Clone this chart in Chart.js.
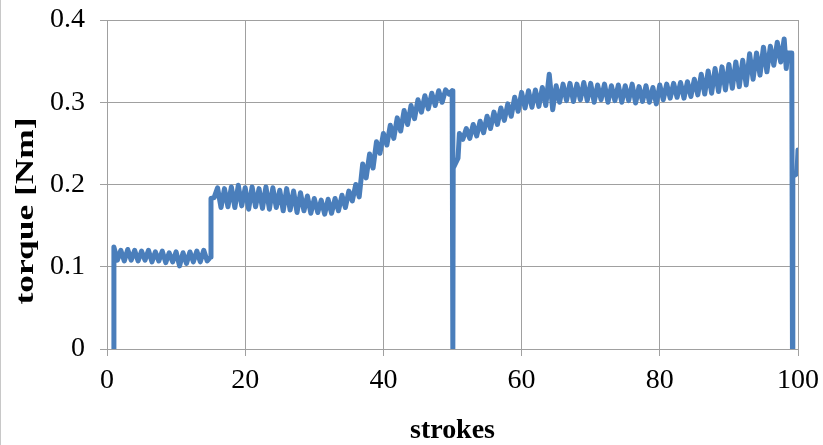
<!DOCTYPE html>
<html>
<head>
<meta charset="utf-8">
<script src="https://cdn.jsdelivr.net/npm/chart.js@4.4.1/dist/chart.umd.min.js"></script>
<style>
  html, body { margin: 0; padding: 0; background: #ffffff; }
  #wrap { width: 823px; height: 445px; position: relative; }
  canvas { display: block; }
</style>
</head>
<body>
<div id="wrap"><canvas id="c" width="823" height="445"></canvas></div>
<script>
// ---- data ----
const strokes = [
  1, 1, 1.5, 2, 2.5, 3, 3.5, 4, 4.5, 5, 5.5, 6, 6.5, 7, 7.5, 8, 8.5, 9, 9.5, 10, 10.5,
  11, 11.5, 12, 12.5, 13, 13.5, 14, 14.5, 15, 15.05, 15.5,
  16, 16.5, 17, 17.5, 18, 18.5, 19, 19.5, 20, 20.5, 21, 21.5, 22, 22.5, 23, 23.5, 24, 24.5,
  25, 25.5, 26, 26.5, 27, 27.5, 28, 28.5, 29, 29.5, 30, 30.5, 31, 31.5, 32, 32.5, 33, 33.5,
  34, 34.5, 35, 35.5, 36, 36.5, 37, 37.5, 38, 38.5, 39, 39.5, 40, 40.5, 41, 41.5, 42, 42.5,
  43, 43.5, 44, 44.5, 45, 45.5, 46, 46.5, 47, 47.5, 48, 48.5, 49, 49.5, 49.95, 50.05, 50.1, 50.8,
  51, 51.5, 52, 52.5, 53, 53.5, 54, 54.5, 55, 55.5, 56, 56.5, 57, 57.5, 58, 58.5, 59, 59.5,
  60, 60.5, 61, 61.5, 62, 62.5, 63, 63.5, 64, 64.5, 65, 65.5, 66, 66.5, 67, 67.5, 68, 68.5,
  69, 69.5, 70, 70.5, 71, 71.5, 72, 72.5, 73, 73.5, 74, 74.5, 75, 75.5, 76, 76.5, 77, 77.5,
  78, 78.5, 79, 79.5, 80, 80.5, 81, 81.5, 82, 82.5, 83, 83.5, 84, 84.5, 85, 85.5, 86, 86.5,
  87, 87.5, 88, 88.5, 89, 89.5, 90, 90.5, 91, 91.5, 92, 92.5, 93, 93.5, 94, 94.5, 95, 95.5,
  96, 96.5, 97, 97.5, 98, 98.3, 98.5, 99.1, 99.2, 99.25, 99.85, 100
];
const torque = [
  0, 0.124, 0.108, 0.120, 0.107, 0.121, 0.108, 0.120, 0.107, 0.119, 0.108, 0.120, 0.106, 0.118, 0.107, 0.119, 0.105, 0.117, 0.106, 0.118, 0.101,
  0.117, 0.104, 0.118, 0.106, 0.119, 0.106, 0.120, 0.107, 0.112, 0.183, 0.184,
  0.196, 0.172, 0.195, 0.173, 0.197, 0.172, 0.199, 0.174, 0.196, 0.170, 0.197, 0.173, 0.195, 0.171, 0.197, 0.170, 0.196, 0.172,
  0.193, 0.168, 0.195, 0.169, 0.192, 0.166, 0.190, 0.168, 0.186, 0.165, 0.183, 0.166, 0.181, 0.164, 0.182, 0.165, 0.183, 0.168,
  0.187, 0.172, 0.192, 0.180, 0.200, 0.185, 0.225, 0.208, 0.237, 0.220, 0.252, 0.238, 0.262, 0.248, 0.272, 0.256, 0.281, 0.265,
  0.290, 0.273, 0.296, 0.280, 0.303, 0.288, 0.308, 0.292, 0.311, 0.296, 0.314, 0.300, 0.315, 0.310, 0.314, 0, 0.220, 0.232,
  0.262, 0.255, 0.268, 0.256, 0.273, 0.259, 0.277, 0.263, 0.283, 0.268, 0.288, 0.273, 0.293, 0.278, 0.298, 0.283, 0.306, 0.289,
  0.312, 0.293, 0.314, 0.294, 0.315, 0.295, 0.318, 0.296, 0.334, 0.291, 0.320, 0.300, 0.322, 0.302, 0.323, 0.301, 0.322, 0.303,
  0.324, 0.302, 0.323, 0.300, 0.321, 0.303, 0.322, 0.300, 0.320, 0.302, 0.321, 0.300, 0.320, 0.302, 0.322, 0.299, 0.319, 0.301,
  0.320, 0.300, 0.318, 0.298, 0.321, 0.303, 0.322, 0.305, 0.323, 0.306, 0.324, 0.305, 0.325, 0.307, 0.328, 0.309, 0.334, 0.310,
  0.338, 0.311, 0.341, 0.313, 0.343, 0.315, 0.346, 0.317, 0.349, 0.319, 0.351, 0.321, 0.359, 0.328, 0.360, 0.333, 0.367, 0.337,
  0.368, 0.345, 0.373, 0.349, 0.377, 0.341, 0.360, 0.360, 0, 0.210, 0.213, 0.242
];
const xTicks = [0, 20, 40, 60, 80, 100];
const yTicks = [0, 0.1, 0.2, 0.3, 0.4];
const xTitle = 'strokes';
const yTitle = 'torque [Nm]';

const points = strokes.map((s, i) => ({ x: s, y: torque[i] }));

const FONT = "'Liberation Serif', 'Times New Roman', serif";
const GRID = '#a0a0a0';

function drawStretched(ctx, text, cx, cy, targetWidth) {
  const w = ctx.measureText(text).width;
  const sx = targetWidth / w;
  ctx.save();
  ctx.translate(cx, cy);
  ctx.scale(sx, 1);
  ctx.fillText(text, 0, 0);
  ctx.restore();
}

const titlePlugin = {
  id: 'axisTitles',
  afterDraw(chart) {
    const ctx = chart.ctx;
    ctx.save();
    ctx.fillStyle = '#000';
    ctx.textAlign = 'center';
    ctx.textBaseline = 'middle';
    ctx.font = 'bold 28px ' + FONT;
    drawStretched(ctx, xTitle, (chart.chartArea.left + chart.chartArea.right) / 2, 431, 85);
    ctx.font = 'bold 26px ' + FONT;
    ctx.translate(26, 211);
    ctx.rotate(-Math.PI / 2);
    drawStretched(ctx, yTitle, 0, 0, 187);
    ctx.restore();
    // outer frame line on the left
    ctx.save();
    ctx.strokeStyle = '#c8c8c8';
    ctx.lineWidth = 1;
    ctx.beginPath();
    ctx.moveTo(0.5, 0);
    ctx.lineTo(0.5, 445);
    ctx.stroke();
    ctx.restore();
  }
};

new Chart(document.getElementById('c'), {
  type: 'line',
  data: {
    datasets: [{
      data: points,
      borderColor: '#4A7EBB',
      borderWidth: 5,
      borderJoinStyle: 'round',
      borderCapStyle: 'round',
      pointRadius: 0,
      tension: 0,
      fill: false
    }]
  },
  options: {
    responsive: false,
    animation: false,
    devicePixelRatio: 1,
    layout: { padding: { left: 0, top: 20, right: 25, bottom: 0 } },
    plugins: { legend: { display: false }, tooltip: { enabled: false } },
    scales: {
      x: {
        type: 'linear',
        min: 0, max: 100,
        afterBuildTicks(scale) { scale.ticks = xTicks.map(v => ({ value: v })); },
        afterFit(scale) {
          scale.height = 96;
          scale.paddingLeft = 0; scale.paddingRight = 0;
        },
        grid: { color: GRID, lineWidth: 1, tickLength: 7, drawTicks: true },
        border: { color: GRID, width: 1 },
        ticks: {
          color: '#000',
          font: { family: FONT, size: 28 },
          padding: 8,
          maxRotation: 0,
          callback: v => String(v)
        }
      },
      y: {
        type: 'linear',
        min: 0, max: 0.4,
        afterBuildTicks(scale) { scale.ticks = yTicks.map(v => ({ value: v })); },
        afterFit(scale) {
          scale.width = 107;
          scale.paddingTop = 0; scale.paddingBottom = 0;
        },
        grid: { color: GRID, lineWidth: 1, tickLength: 7, drawTicks: true },
        border: { color: GRID, width: 1 },
        ticks: {
          color: '#000',
          font: { family: FONT, size: 28 },
          padding: 15,
          callback: v => (v === 0 ? '0' : v.toFixed(1))
        }
      }
    }
  },
  plugins: [titlePlugin]
});
</script>
</body>
</html>
